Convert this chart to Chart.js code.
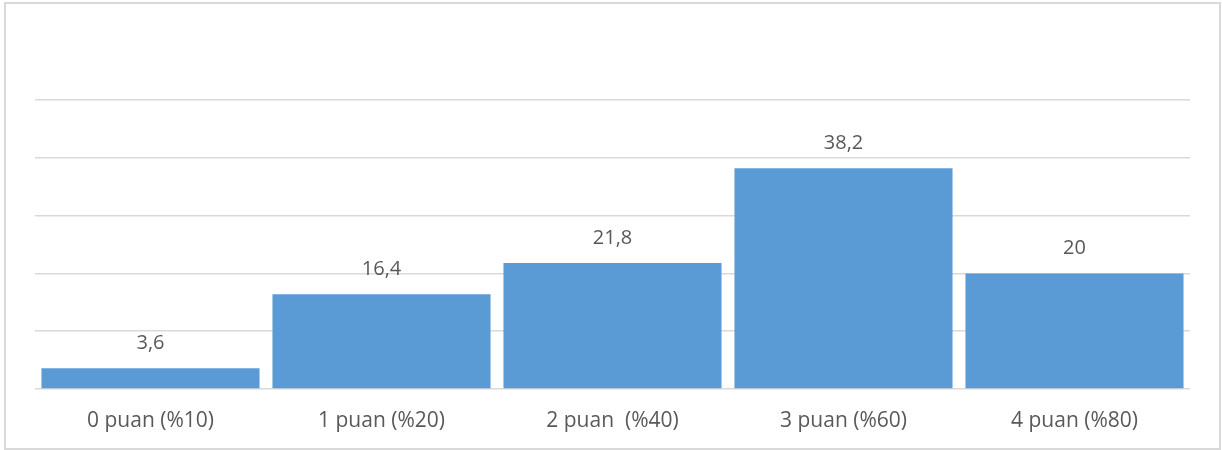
<!DOCTYPE html>
<html>
<head>
<meta charset="utf-8">
<script src="https://cdn.jsdelivr.net/npm/chart.js@4.4.0/dist/chart.umd.min.js"></script>
<style>
  body { margin: 0; background: #fff; }
  #frame { position: absolute; left: 4px; top: 2px; width: 1213px; height: 444px; border: 2px solid #d9d9d9; }
  #wrap { position: absolute; left: 0; top: 0; width: 1222px; height: 450px; }
</style>
</head>
<body>
<div id="frame"></div>
<div id="wrap"><canvas id="chart"></canvas></div>
<script>
// puan dağılımı
var categories = ['0 puan (%10)', '1 puan (%20)', '2 puan  (%40)', '3 puan (%60)', '4 puan (%80)'];
var values = [3.6, 16.4, 21.8, 38.2, 20];
var yMax = 50;
var yStep = 10;

// bar üstüne değer yaz (virgüllü)
var valueLabels = {
  id: 'valueLabels',
  afterDatasetsDraw: function(chart) {
    var ctx = chart.ctx;
    var meta = chart.getDatasetMeta(0);
    ctx.save();
    ctx.fillStyle = '#595959';
    ctx.font = '20px "Open Sans", sans-serif';
    ctx.textAlign = 'center';
    ctx.textBaseline = 'middle';
    meta.data.forEach(function(bar, i) {
      var txt = String(values[i]).replace('.', ',');
      ctx.fillText(txt, bar.x, bar.y - 25);
    });
    ctx.restore();
  }
};

new Chart(document.getElementById('chart'), {
  type: 'bar',
  data: {
    labels: categories,
    datasets: [{
      data: values,
      backgroundColor: '#5b9bd5',
      barPercentage: 0.944,
      categoryPercentage: 1.0
    }]
  },
  options: {
    responsive: true,
    maintainAspectRatio: false,
    animation: false,
    layout: { padding: { left: 35, right: 32, top: 100, bottom: 6 } },
    plugins: { legend: { display: false }, tooltip: { enabled: false } },
    scales: {
      x: {
        grid: { display: false },
        border: { display: false },
        ticks: { color: '#595959', font: { family: '"Open Sans", sans-serif', size: 21 }, padding: 11 },
        afterFit: function(scale) { scale.height = 55; }
      },
      y: {
        min: 0,
        max: yMax,
        ticks: { display: false, stepSize: yStep },
        border: { display: false },
        grid: { color: '#d9d9d9', lineWidth: 1.5, drawTicks: false },
        afterFit: function(scale) { scale.width = 0; }
      }
    }
  },
  plugins: [valueLabels]
});
</script>
</body>
</html>
